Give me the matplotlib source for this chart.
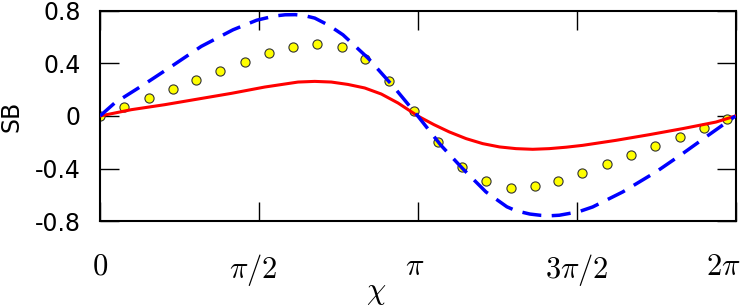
import numpy as np
import matplotlib
matplotlib.use("Agg")
import matplotlib.pyplot as plt
from matplotlib.transforms import ScaledTranslation

# valores
chi_rojo = [0.0, 0.309, 0.640, 0.969, 1.298, 1.628, 1.958, 2.123, 2.287, 2.450,
            2.617, 2.781, 2.946, 3.142, 3.300, 3.453, 3.620, 3.784, 3.950,
            4.113, 4.278, 4.442, 4.610, 4.772, 5.101, 5.430, 5.760, 6.090, 6.283]
sb_rojo = [0.0, 0.048, 0.086, 0.129, 0.172, 0.220, 0.258, 0.263, 0.258, 0.240,
           0.213, 0.167, 0.099, 0.0, -0.065, -0.121, -0.172, -0.210, -0.235,
           -0.248, -0.253, -0.248, -0.237, -0.223, -0.185, -0.142, -0.096,
           -0.046, 0.0]

chi_azul = [0.0, 0.145, 0.442, 0.722, 1.001, 1.315, 1.550, 1.727, 1.830, 1.930,
            2.020, 2.123, 2.260, 2.402, 2.650, 2.913, 3.142, 3.371, 3.586, 3.816,
            4.023, 4.113, 4.250, 4.360, 4.450, 4.541, 4.730, 4.871, 5.168,
            5.497, 5.760, 5.991, 6.283]
sb_azul = [0.0, 0.099, 0.243, 0.385, 0.529, 0.655, 0.728, 0.760, 0.769, 0.770,
           0.763, 0.744, 0.690, 0.617, 0.440, 0.213, 0.0, -0.223, -0.400, -0.577,
           -0.690, -0.720, -0.745, -0.755, -0.758, -0.754, -0.728, -0.691,
           -0.577, -0.425, -0.286, -0.159, 0.0]

chi_puntos = [0.0, 0.24, 0.48, 0.72, 0.95, 1.19, 1.43, 1.67, 1.91, 2.15, 2.39,
              2.62, 2.86, 3.10, 3.34, 3.58, 3.82, 4.06, 4.30, 4.53, 4.77, 5.01,
              5.25, 5.49, 5.73, 5.97, 6.20]
sb_puntos = [0.0, 0.071, 0.137, 0.205, 0.273, 0.344, 0.412, 0.476, 0.524, 0.544,
             0.522, 0.433, 0.268, 0.040, -0.195, -0.385, -0.496, -0.544, -0.532,
             -0.491, -0.433, -0.367, -0.298, -0.228, -0.159, -0.093, -0.023]

xticks = [0, np.pi / 2, np.pi, 3 * np.pi / 2, 2 * np.pi]
xtick_labels = [r"$0$", r"$\pi/2$", r"$\pi$", r"$3\pi/2$", r"$2\pi$"]
yticks = [-0.8, -0.4, 0, 0.4, 0.8]
ytick_labels = ["-0.8", "-0.4", "0", "0.4", "0.8"]

plt.rcParams["mathtext.fontset"] = "cm"

fig = plt.figure(figsize=(7.48, 3.07), dpi=100)
ax = fig.add_axes([0.1337, 0.2792, 0.8496, 0.6859])

ax.plot(chi_puntos, sb_puntos, "o", ms=6.6, mfc="#ffff00", mec="#333333",
        mew=0.8, zorder=2)
ax.plot(chi_rojo, sb_rojo, color="#ff0000", lw=2.2, zorder=3)
ax.plot(chi_azul, sb_azul, color="#0000ff", lw=2.5, dashes=(5.5, 3), zorder=4)

ax.set_xlim(0, 2 * np.pi)
ax.set_ylim(-0.8, 0.8)
ax.set_xticks(xticks)
ax.set_xticklabels(xtick_labels, fontsize=22)
ax.set_yticks(yticks)
ax.set_yticklabels(ytick_labels, fontsize=17)
ax.tick_params(direction="in", length=14, width=1.0, top=True, right=True)
ax.tick_params(axis="x", pad=22)
ax.tick_params(axis="y", pad=14)
for s in ax.spines.values():
    s.set_linewidth(1.5)

# desplazar un poco las etiquetas como en el original
desplaz = [0, -6, -3, 0, -12]
for lab, dx in zip(ax.get_xticklabels(), desplaz):
    lab.set_transform(lab.get_transform() + ScaledTranslation(dx / 100, 0, fig.dpi_scale_trans))

ax.set_ylabel("SB", fontsize=17, labelpad=8)
ax.set_xlabel(r"$\chi$", fontsize=22)
ax.xaxis.set_label_coords(0.434, -0.27)

fig.savefig("out.png", dpi=100)
